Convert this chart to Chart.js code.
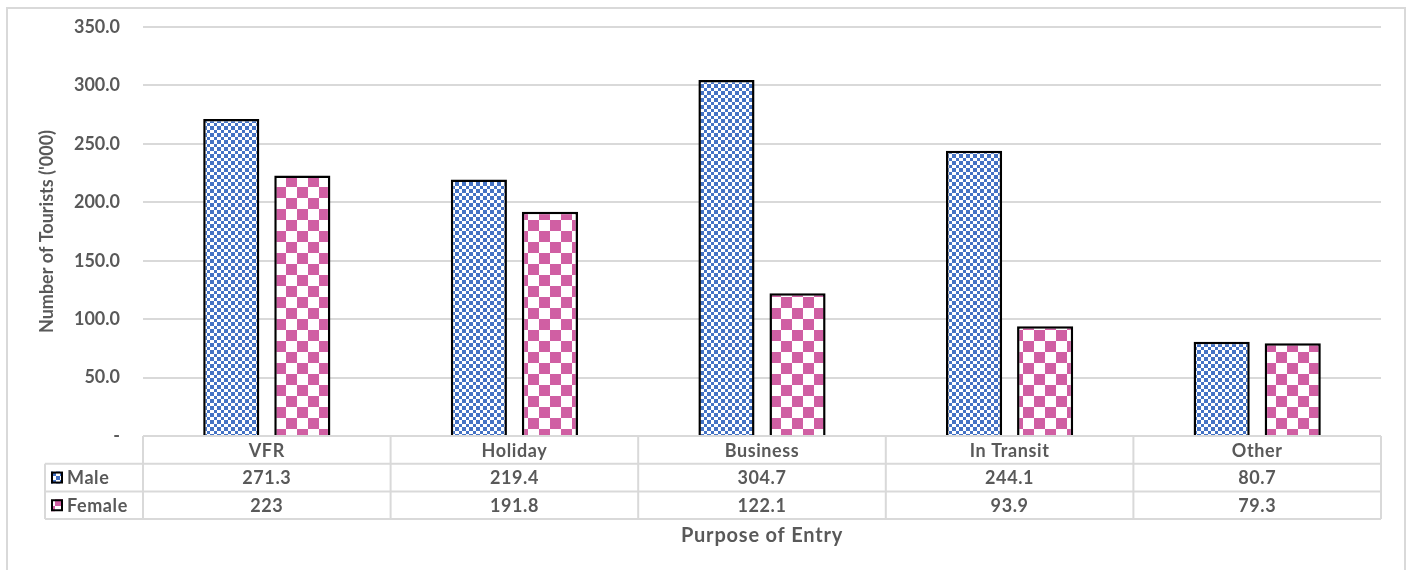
<!DOCTYPE html>
<html>
<head>
<meta charset="utf-8">
<script src="https://cdn.jsdelivr.net/npm/chart.js@4.4.1/dist/chart.umd.min.js"></script>
<style>
  html, body { margin: 0; padding: 0; background: #fff; }
  #wrap { width: 1411px; height: 570px; }
</style>
</head>
<body>
<div id="wrap"><canvas id="myChart" width="1411" height="570"></canvas></div>
<script>
const purposes = ['VFR', 'Holiday', 'Business', 'In Transit', 'Other'];
const maleValues = [271.3, 219.4, 304.7, 244.1, 80.7];
const femaleValues = [223, 191.8, 122.1, 93.9, 79.3];
// as printed in the data table
const maleLabels = ['271.3', '219.4', '304.7', '244.1', '80.7'];
const femaleLabels = ['223', '191.8', '122.1', '93.9', '79.3'];
const seriesNames = ['Male', 'Female'];
const yMax = 350;
const yStep = 50;

const textColor = '#595959';
const lineGrey = '#d9d9d9';
const fontFamily = 'Lato, "Open Sans", sans-serif';

function makeChecker(a, b, color) {
  const c = document.createElement('canvas');
  c.width = a + b;
  c.height = a + b;
  const g = c.getContext('2d');
  g.fillStyle = '#fff';
  g.fillRect(0, 0, a + b, a + b);
  g.fillStyle = color;
  g.fillRect(0, 0, a, a);
  g.fillRect(a, a, b, b);
  return c;
}

const ctx = document.getElementById('myChart').getContext('2d');
ctx.canvas.width = 1411;
ctx.canvas.height = 570;
const malePattern = ctx.createPattern(makeChecker(4, 3, '#4472C4'), 'repeat');
const femalePattern = ctx.createPattern(makeChecker(11, 11, '#D05FA3'), 'repeat');

const outerBorder = {
  id: 'outerBorder',
  beforeDraw(chart) {
    const c = chart.ctx;
    c.save();
    c.fillStyle = '#fff';
    c.fillRect(0, 0, chart.width, chart.height);
    c.strokeStyle = lineGrey;
    c.lineWidth = 2;
    c.strokeRect(7, 8, 1398, 600);
    c.restore();
  }
};

const dataTable = {
  id: 'dataTable',
  afterDraw(chart) {
    const c = chart.ctx;
    const area = chart.chartArea;
    const x = chart.scales.x;
    const n = purposes.length;
    const colW = (area.right - area.left) / n;
    const top = area.bottom;
    const rowH = 27.7;
    const legLeft = 45;
    c.save();
    c.strokeStyle = lineGrey;
    c.lineWidth = 2;
    c.beginPath();
    c.moveTo(area.left, top);
    c.lineTo(area.right, top);
    for (let r = 1; r <= 3; r++) {
      c.moveTo(legLeft, top + r * rowH);
      c.lineTo(area.right, top + r * rowH);
    }
    c.moveTo(legLeft, top + rowH);
    c.lineTo(legLeft, top + 3 * rowH);
    for (let i = 0; i <= n; i++) {
      const xx = area.left + i * colW;
      c.moveTo(xx, top);
      c.lineTo(xx, top + 3 * rowH);
    }
    c.stroke();

    c.fillStyle = textColor;
    c.textAlign = 'center';
    c.textBaseline = 'middle';
    c.letterSpacing = '0.6px';
    c.font = 'bold 18px ' + fontFamily;
    purposes.forEach((p, i) => {
      const cx = x.getPixelForValue(i);
      c.fillText(p, cx, top + rowH / 2 + 1);
      c.fillText(maleLabels[i], cx, top + rowH * 1.5 + 1);
      c.fillText(femaleLabels[i], cx, top + rowH * 2.5 + 1);
    });

    // legend keys
    const pats = [malePattern, femalePattern];
    seriesNames.forEach((s, k) => {
      const cy = top + rowH * (1.5 + k);
      c.fillStyle = pats[k];
      c.fillRect(51, cy - 6, 12, 12);
      c.strokeStyle = '#000';
      c.lineWidth = 2;
      c.strokeRect(52, cy - 5, 10, 10);
      c.fillStyle = textColor;
      c.textAlign = 'left';
      c.font = 'bold 18px ' + fontFamily;
      c.fillText(s, 67, cy + 1);
    });

    c.textAlign = 'center';
    c.letterSpacing = '0.8px';
    c.font = 'bold 20px ' + fontFamily;
    c.fillText('Purpose of Entry', (area.left + area.right) / 2, 536);
    c.restore();
  }
};

Chart.defaults.font.family = fontFamily;
Chart.defaults.color = textColor;

new Chart(ctx, {
  type: 'bar',
  data: {
    labels: purposes,
    datasets: [{
      label: seriesNames[0],
      data: maleValues,
      backgroundColor: malePattern,
      borderColor: '#000',
      borderWidth: 2.5,
      borderSkipped: 'bottom'
    }, {
      label: seriesNames[1],
      data: femaleValues,
      backgroundColor: femalePattern,
      borderColor: '#000',
      borderWidth: 2.5,
      borderSkipped: 'bottom'
    }]
  },
  options: {
    responsive: false,
    animation: false,
    categoryPercentage: 0.574,
    barPercentage: 0.79,
    layout: { padding: { left: 7, right: 30, top: 27, bottom: 134 } },
    scales: {
      x: { display: false },
      y: {
        min: 0,
        max: yMax,
        afterFit: (scale) => {
          scale.width = 136;
          scale.paddingTop = 0;
          scale.paddingBottom = 0;
        },
        ticks: {
          stepSize: yStep,
          padding: 23,
          font: { size: 18, weight: 'bold' },
          color: textColor,
          callback: (v) => v === 0 ? '-' : v.toFixed(1)
        },
        grid: { color: lineGrey, lineWidth: 2, drawTicks: false },
        border: { display: false },
        title: {
          display: true,
          text: "Number of Tourists ('000)",
          font: { size: 18, weight: 'bold' },
          color: textColor,
          padding: { top: 29 }
        }
      }
    },
    plugins: {
      legend: { display: false },
      tooltip: { enabled: false }
    }
  },
  plugins: [outerBorder, dataTable]
});
</script>
</body>
</html>
